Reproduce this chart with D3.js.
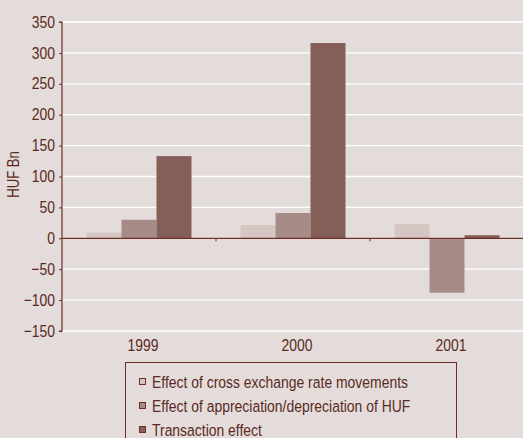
<!DOCTYPE html>
<html><head><meta charset="utf-8">
<script src="https://cdn.jsdelivr.net/npm/d3@7"></script>
<style>
html,body{margin:0;padding:0;background:#e4dcdb;}
svg{display:block;}
text{font-family:"Liberation Sans","Arial",sans-serif;fill:#5a2a22;}
</style></head>
<body>
<svg id="c" width="523" height="438"></svg>
<script>
const categories = ["1999", "2000", "2001"];
const seriesNames = ["Effect of cross exchange rate movements", "Effect of appreciation/depreciation of HUF", "Transaction effect"];
const crossEffect = [9, 21.5, 23];
const appreciationEffect = [30, 41, -88];
const transactionEffect = [133, 316, 5];
const yTicks = [-150, -100, -50, 0, 50, 100, 150, 200, 250, 300, 350];
const colors = ["#d5c6c4", "#a78b86", "#845f58"];

const series = [crossEffect, appreciationEffect, transactionEffect];
const svg = d3.select("#c");
const W = 523, H = 438;
const x0 = 62, x1 = 524, yTop = 22, yBot = 331;
const axisColor = "#6e2e26";
const SX = 0.82, FS = 17;

svg.append("rect").attr("width", W).attr("height", H).attr("fill", "#e4dcdb");

const y = d3.scaleLinear().domain([-150, 350]).range([yBot, yTop]);
const xb = d3.scaleBand().domain(categories).range([x0, x1]).paddingInner(0).paddingOuter(0);
const bw = 35;
const xs = d3.scaleBand().domain(d3.range(3)).range([0, bw * 3]);

// gridlines
svg.append("g").selectAll("line").data(yTicks).join("line")
  .attr("x1", x0).attr("x2", W).attr("y1", d => y(d)).attr("y2", d => y(d))
  .attr("stroke", "#ffffff").attr("stroke-width", 1.3);

// bars
const g = svg.append("g");
categories.forEach((c, i) => {
  const off = xb(c) + (xb.bandwidth() - bw * 3) / 2;
  series.forEach((s, j) => {
    const v = s[i];
    g.append("rect")
      .attr("x", off + xs(j)).attr("width", xs.bandwidth())
      .attr("y", y(Math.max(0, v))).attr("height", Math.abs(y(v) - y(0)))
      .attr("fill", colors[j]);
  });
});

// zero line
svg.append("line").attr("x1", x0).attr("x2", W).attr("y1", y(0)).attr("y2", y(0))
  .attr("stroke", axisColor).attr("stroke-width", 1.2);
svg.append("g").selectAll("line").data(categories.slice(1)).join("line")
  .attr("x1", d => xb(d)).attr("x2", d => xb(d))
  .attr("y1", y(0)).attr("y2", y(0) + 3)
  .attr("stroke", axisColor).attr("stroke-width", 1);

// y axis
const yAxis = d3.axisLeft(y).tickValues(yTicks).tickSize(3).tickPadding(4);
const ya = svg.append("g").attr("transform", `translate(${x0},0)`).call(yAxis);
ya.select(".domain").attr("stroke", axisColor).attr("stroke-width", 1.2).attr("d", `M-3,${yTop}H0V${yBot}H-3`);
ya.selectAll(".tick line").attr("stroke", axisColor);
ya.selectAll(".tick text").attr("font-size", FS).attr("fill", "#5a2a22")
  .style("font-family", '"Liberation Sans",sans-serif')
  .attr("x", -7 / SX).attr("dy", "0.3em")
  .attr("transform", `scale(${SX},1)`);

// category labels
svg.append("g").selectAll("text").data(categories).join("text")
  .attr("transform", d => `translate(${xb(d) + xb.bandwidth() / 2 + 4},351) scale(${SX},1)`)
  .attr("text-anchor", "middle").attr("font-size", FS).text(d => d);

// y label
svg.append("text").attr("transform", `translate(19,${(yTop + yBot) / 2 - 2}) rotate(-90) scale(${SX},1)`)
  .attr("text-anchor", "middle").attr("font-size", 16).text("HUF Bn");

// legend
const lg = svg.append("g");
lg.append("rect").attr("x", 125.5).attr("y", 362.5).attr("width", 331).attr("height", 90)
  .attr("fill", "none").attr("stroke", axisColor).attr("stroke-width", 1);
seriesNames.forEach((n, j) => {
  const ly = 382 + j * 24;
  lg.append("rect").attr("x", 139.5).attr("y", ly - 3.5).attr("width", 6).attr("height", 6)
    .attr("fill", colors[j]).attr("stroke", axisColor).attr("stroke-width", 1);
  lg.append("text").attr("transform", `translate(152,${ly + 6}) scale(${SX},1)`)
    .attr("font-size", FS).text(n);
});
</script>
</body></html>
